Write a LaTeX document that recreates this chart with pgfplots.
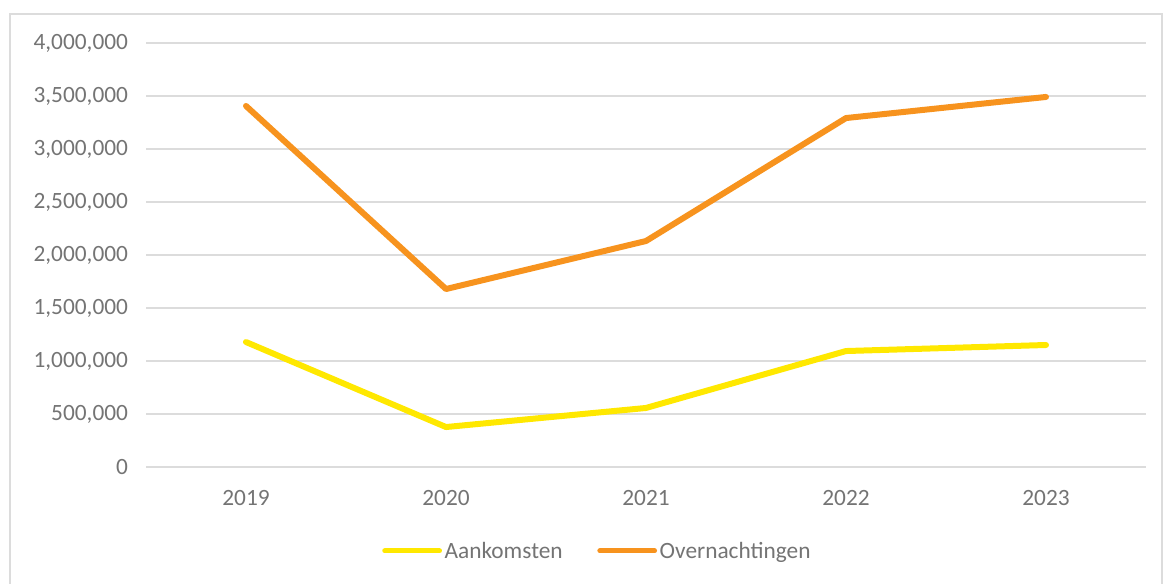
\documentclass[border=0pt]{standalone}
\usepackage{fontspec}
\setmainfont{Carlito}
\usepackage{pgfplots}
\pgfplotsset{compat=1.18}

\definecolor{txtgray}{HTML}{747474}
\definecolor{gridgray}{HTML}{DCDCDC}
\definecolor{aankomst}{HTML}{FFE800}
\definecolor{overnacht}{HTML}{F7931E}

\begin{document}
\begin{tikzpicture}
  % page = 1163 x 583 px at 0.75pt per px
  \useasboundingbox (0,0) rectangle (872.25pt,437.25pt);
  \draw[gridgray, line width=0.9pt] (7.5pt,-5pt) rectangle (871.5pt,426.75pt);
  \begin{axis}[
      at={(109.5pt,87pt)}, anchor=south west,
      scale only axis,
      width=750pt, height=318pt,
      xmin=-0.5, xmax=4.5,
      ymin=0, ymax=4000000,
      xtick={0,1,2,3,4},
      xticklabels={2019,2020,2021,2022,2023},
      ytick={0,500000,1000000,1500000,2000000,2500000,3000000,3500000,4000000},
      scaled y ticks=false,
      /pgf/number format/.cd, fixed, 1000 sep={,}, assume math mode=true,
      /pgfplots/.cd,
      axis line style={draw=none},
      axis x line*=bottom,
      major tick length=0pt,
      ymajorgrids,
      grid style={gridgray, line width=0.9pt},
      tick label style={font=\fontsize{17.5}{21}\selectfont, text=txtgray},
      xticklabel style={yshift=-14pt},
      yticklabel style={xshift=-10pt},
      legend style={at={(0.236,-0.198)}, anchor=west, draw=none,
        font=\fontsize{17.5}{21}\selectfont, text=txtgray,
        legend columns=-1, inner sep=0pt,
        /tikz/every even column/.append style={column sep=24pt}},
      legend image code/.code={\draw[#1, line width=3.8pt] (0pt,0pt) -- (41pt,0pt);},
      legend cell align=left,
    ]
    \addplot[aankomst, line width=4.5pt, line cap=round, line join=round]
      coordinates {(0,1179000) (1,377000) (2,557000) (3,1094000) (4,1151000)};
    \addlegendentry{Aankomsten}
    \addplot[overnacht, line width=4.5pt, line cap=round, line join=round]
      coordinates {(0,3406000) (1,1679000) (2,2132000) (3,3292000) (4,3491000)};
    \addlegendentry{Overnachtingen}
    \draw[gridgray, line width=0.9pt] (rel axis cs:0,0) -- (rel axis cs:1,0);
  \end{axis}
\end{tikzpicture}
\end{document}
